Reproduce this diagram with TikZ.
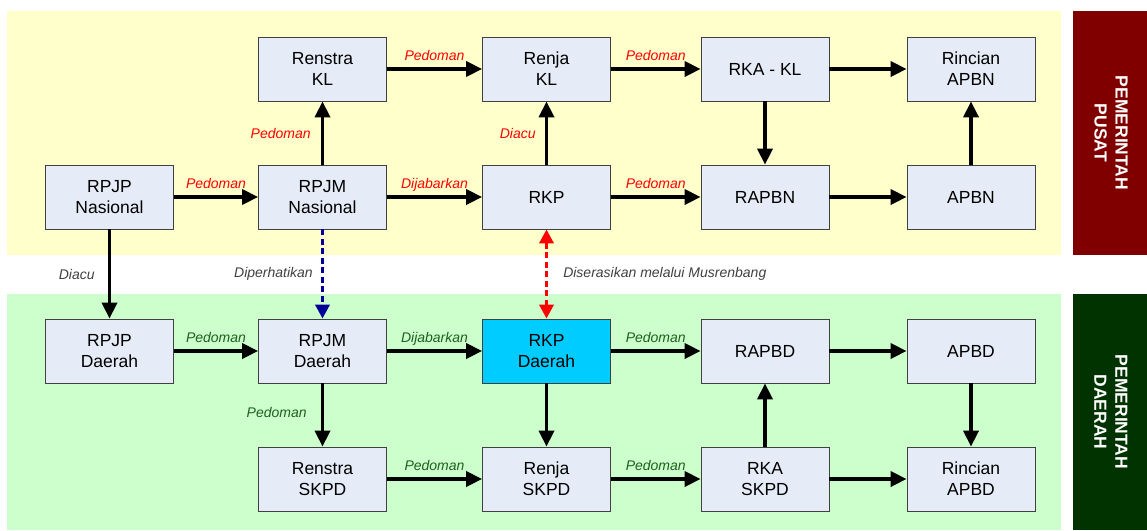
\documentclass[tikz,border=0pt]{standalone}
\usepackage{fontspec}
\setmainfont{Liberation Sans}
\usetikzlibrary{arrows.meta}
\definecolor{boxfill}{HTML}{E6ECF7}
\definecolor{boxline}{HTML}{404040}
\definecolor{bandY}{HTML}{FFFFCC}
\definecolor{bandG}{HTML}{CCFFCC}
\definecolor{sideR}{HTML}{800000}
\definecolor{sideG}{HTML}{003300}
\definecolor{labR}{HTML}{FF0000}
\definecolor{labG}{HTML}{1F5F1F}
\definecolor{labK}{HTML}{404040}
\definecolor{hiC}{HTML}{00CCFF}
\definecolor{navy}{HTML}{000099}
\begin{document}
\begin{tikzpicture}[x=1pt,y=-1pt,
  box/.style={draw=boxline, line width=0.8pt, fill=boxfill, minimum width=128pt, minimum height=64pt, inner sep=0pt, align=center, font=\fontsize{17.5}{21}\selectfont},
  arr/.style={line width=3.7pt, -{Triangle[length=16pt,width=15pt]}},
  dasharr/.style={line width=3.5pt, dash pattern=on 6pt off 3.5pt, -{Triangle[length=14pt,width=14pt]}},
  lab/.style={font=\fontsize{14}{16}\selectfont\itshape, inner sep=0pt},
  labr/.style={lab, text=labR},
  labg/.style={lab, text=labG},
  labk/.style={lab, text=labK},
  habove/.style={midway, anchor=base, yshift=9pt},
  vleft/.style={midway, anchor=east, xshift=-10pt},
  side/.style={font=\fontsize{17.5}{21}\selectfont\bfseries, text=white, align=center, rotate=-90, inner sep=0pt}
]
\useasboundingbox (0,0) rectangle (1147,530);
% bands
\fill[bandY] (7,11) rectangle (1061,255);
\fill[bandG] (7,294) rectangle (1061,530);
\fill[sideR] (1073,11) rectangle (1147,255);
\fill[sideG] (1073,294) rectangle (1147,530);
\node[side] (sp) at (1111,133) {PEMERINTAH\\PUSAT};
\node[side] (sd) at (1111,412) {PEMERINTAH\\DAERAH};

% nodes - top
\node[box] (rsk) at (322.5,69) {Renstra\\KL};
\node[box] (rjk) at (546.5,69) {Renja\\KL};
\node[box] (rka) at (765,69) {RKA - KL};
\node[box] (rap) at (971,69) {Rincian\\APBN};
\node[box] (rpjpn) at (109.5,197) {RPJP\\Nasional};
\node[box] (rpjmn) at (322.5,197) {RPJM\\Nasional};
\node[box] (rkp) at (546.5,197) {RKP};
\node[box] (rapbn) at (765,197) {RAPBN};
\node[box] (apbn) at (971,197) {APBN};
% nodes - bottom
\node[box] (rpjpd) at (109.5,351) {RPJP\\Daerah};
\node[box] (rpjmd) at (322.5,351) {RPJM\\Daerah};
\node[box, fill=hiC] (rkpd) at (546.5,351) {RKP\\Daerah};
\node[box] (rapbd) at (765,351) {RAPBD};
\node[box] (apbd) at (971,351) {APBD};
\node[box] (rss) at (322.5,479) {Renstra\\SKPD};
\node[box] (rjs) at (546.5,479) {Renja\\SKPD};
\node[box] (rks) at (765,479) {RKA\\SKPD};
\node[box] (rad) at (971,479) {Rincian\\APBD};

% top arrows
\draw[arr] (rpjpn) -- (rpjmn) node[habove, labr] {Pedoman};
\draw[arr] (rpjmn) -- (rsk) node[vleft, labr] {Pedoman};
\draw[arr] (rsk) -- (rjk) node[habove, labr] {Pedoman};
\draw[arr] (rjk) -- (rka) node[habove, labr] {Pedoman};
\draw[arr] (rka) -- (rap);
\draw[arr] (rka) -- (rapbn);
\draw[arr] (rpjmn) -- (rkp) node[habove, labr] {Dijabarkan};
\draw[arr] (rkp) -- (rjk) node[midway, anchor=east, xshift=-9pt, labr] {Diacu};
\draw[arr] (rkp) -- (rapbn) node[habove, labr] {Pedoman};
\draw[arr] (rapbn) -- (apbn);
\draw[arr] (apbn) -- (rap);

% between
\draw[arr] (rpjpn) -- (rpjpd) node[midway, anchor=east, xshift=-13pt, labk] {Diacu};
\draw[dasharr, navy] (rpjmn) -- (rpjmd) node[midway, anchor=east, xshift=-8pt, labk] {Diperhatikan};
\draw[dasharr, labR, {Triangle[length=14pt,width=14pt]}-{Triangle[length=14pt,width=14pt]}] (rkp) -- (rkpd) node[midway, anchor=west, xshift=15pt, labk] {Diserasikan melalui Musrenbang};

% bottom arrows
\draw[arr] (rpjpd) -- (rpjmd) node[habove, labg] {Pedoman};
\draw[arr] (rpjmd) -- (rkpd) node[habove, labg] {Dijabarkan};
\draw[arr] (rkpd) -- (rapbd) node[habove, labg] {Pedoman};
\draw[arr] (rapbd) -- (apbd);
\draw[arr] (apbd) -- (rad);
\draw[arr] (rpjmd) -- (rss) node[midway, anchor=east, xshift=-14pt, yshift=3pt, labg] {Pedoman};
\draw[arr] (rkpd) -- (rjs);
\draw[arr] (rss) -- (rjs) node[habove, labg] {Pedoman};
\draw[arr] (rjs) -- (rks) node[habove, labg] {Pedoman};
\draw[arr] (rks) -- (rapbd);
\draw[arr] (rks) -- (rad);
\end{tikzpicture}
\end{document}
